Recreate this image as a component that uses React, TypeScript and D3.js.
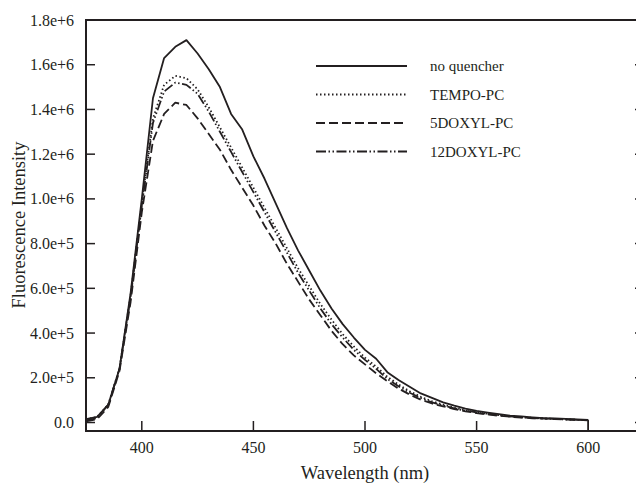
import * as d3 from "d3";

// wavelength (nm) and intensities (units of 1e5 counts)
const wavelengths = [
  375, 380, 385, 390, 395, 400, 405, 410, 415, 420, 425, 430, 435, 440, 445, 450,
  455, 460, 465, 470, 475, 480, 485, 490, 495, 500, 505, 510, 515, 520, 525, 530,
  535, 540, 545, 550, 555, 560, 565, 570, 575, 580, 585, 590, 595, 600,
];
const UNIT = 1e5;

const noQuencher = [
  0.15, 0.25, 0.8, 2.4, 5.8, 10.0, 14.5, 16.3, 16.8, 17.1, 16.5, 15.8, 15.0, 13.8, 13.1, 11.9,
  10.9, 9.8, 8.7, 7.7, 6.8, 5.9, 5.1, 4.4, 3.8, 3.25, 2.85, 2.25, 1.9, 1.6, 1.3, 1.1,
  0.9, 0.75, 0.62, 0.52, 0.44, 0.37, 0.31, 0.27, 0.23, 0.2, 0.18, 0.16, 0.14, 0.12,
];
const tempoPC = [
  0.15, 0.25, 0.8, 2.4, 5.7, 9.8, 13.6, 15.1, 15.5, 15.4, 14.9, 14.1, 13.2, 12.3, 11.4, 10.5,
  9.6, 8.7, 7.8, 6.9, 6.1, 5.3, 4.6, 3.95, 3.4, 2.9, 2.5, 2.05, 1.7, 1.4, 1.15, 0.95,
  0.8, 0.66, 0.55, 0.46, 0.39, 0.33, 0.28, 0.24, 0.21, 0.18, 0.16, 0.14, 0.12, 0.11,
];
const doxyl5 = [
  0.05, 0.15, 0.7, 2.3, 5.4, 9.4, 12.6, 13.8, 14.3, 14.2, 13.6, 12.9, 12.2, 11.3, 10.5, 9.7,
  8.8, 8.0, 7.1, 6.3, 5.5, 4.8, 4.1, 3.5, 3.0, 2.6, 2.2, 1.85, 1.52, 1.25, 1.02, 0.85,
  0.72, 0.6, 0.5, 0.42, 0.36, 0.3, 0.26, 0.22, 0.19, 0.17, 0.15, 0.13, 0.12, 0.1,
];
const doxyl12 = [
  0.1, 0.2, 0.8, 2.4, 5.6, 9.7, 13.4, 14.8, 15.2, 15.1, 14.7, 13.9, 13.0, 12.1, 11.2, 10.3,
  9.4, 8.5, 7.6, 6.7, 5.9, 5.1, 4.4, 3.8, 3.25, 2.8, 2.4, 1.95, 1.62, 1.33, 1.1, 0.9,
  0.76, 0.63, 0.53, 0.45, 0.38, 0.32, 0.27, 0.23, 0.2, 0.18, 0.16, 0.14, 0.12, 0.11,
];

const seriesNames = ["no quencher", "TEMPO-PC", "5DOXYL-PC", "12DOXYL-PC"];
const seriesValues = [noQuencher, tempoPC, doxyl5, doxyl12];
const seriesDash = ["none", "1.5,2.5", "9,4", "10,2.5,1.5,2.5,1.5,2.5"];

const xTicks = [400, 450, 500, 550, 600];
const yTicks = [0, 2e5, 4e5, 6e5, 8e5, 1e6, 1.2e6, 1.4e6, 1.6e6, 1.8e6];
const yTickLabels = ["0.0", "2.0e+5", "4.0e+5", "6.0e+5", "8.0e+5", "1.0e+6", "1.2e+6", "1.4e+6", "1.6e+6", "1.8e+6"];

const W = 636;
const H = 486;
const left = 86, top = 20, bottom = 431, right = 644;

export default function App() {
  const x = d3.scaleLinear().domain([375, 625]).range([left, right]);
  const y = d3.scaleLinear().domain([-38000, 1.8e6]).range([bottom, top]);

  const line = d3
    .line<number>()
    .x((_, i) => x(wavelengths[i]))
    .y((d) => y(d * UNIT));

  const font = "'Liberation Serif', 'Times New Roman', serif";
  const ink = "#231f20";
  const lastW = wavelengths[wavelengths.length - 1];

  return (
    <svg
      width={W}
      height={H}
      style={{ position: "absolute", left: 0, top: 0, background: "#fff" }}
      fontFamily={font}
    >
      {/* data */}
      <g fill="none" stroke={ink} strokeWidth={1.8} strokeLinejoin="round">
        {seriesValues.map((vals, i) => (
          <path key={seriesNames[i]} d={line(vals) || ""} strokeDasharray={seriesDash[i]} />
        ))}
        {/* drop line at the end of the scan */}
        <line
          x1={x(lastW)}
          x2={x(lastW)}
          y1={y(noQuencher[noQuencher.length - 1] * UNIT)}
          y2={bottom}
          strokeWidth={1.5}
        />
      </g>

      {/* frame */}
      <rect x={left} y={top} width={right - left} height={bottom - top} fill="none" stroke={ink} strokeWidth={2} />

      {/* y ticks */}
      {yTicks.map((t, i) => (
        <g key={t}>
          <line x1={left} x2={left + 9} y1={y(t)} y2={y(t)} stroke={ink} strokeWidth={1.5} />
          <line x1={right} x2={right - 9} y1={y(t)} y2={y(t)} stroke={ink} strokeWidth={1.5} />
          <text x={74} y={y(t)} dy="0.35em" textAnchor="end" fontSize={16} fill={ink}>
            {yTickLabels[i]}
          </text>
        </g>
      ))}

      {/* x ticks */}
      {xTicks.map((t) => (
        <g key={t}>
          <line x1={x(t)} x2={x(t)} y1={bottom} y2={bottom - 10} stroke={ink} strokeWidth={1.5} />
          <text x={x(t)} y={bottom + 22} textAnchor="middle" fontSize={16} fill={ink}>
            {t}
          </text>
        </g>
      ))}

      <text x={x(500)} y={479} textAnchor="middle" fontSize={18.5} fill={ink}>
        Wavelength (nm)
      </text>
      <text
        transform={`translate(25, 225) rotate(-90)`}
        textAnchor="middle"
        fontSize={18.5}
        fill={ink}
      >
        Fluorescence Intensity
      </text>

      {/* legend */}
      {seriesNames.map((name, i) => (
        <g key={name} transform={`translate(316, ${66 + i * 28.5})`}>
          <line x1={0} x2={91} y1={0} y2={0} stroke={ink} strokeWidth={1.8} strokeDasharray={seriesDash[i]} />
          <text x={114} y={0} dy="0.35em" fontSize={15} fill={ink}>
            {name}
          </text>
        </g>
      ))}
    </svg>
  );
}
